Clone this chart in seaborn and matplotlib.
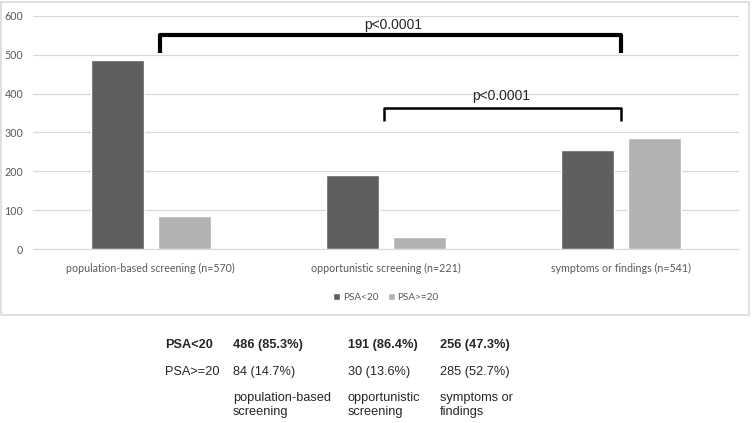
import matplotlib
matplotlib.use("Agg")
import matplotlib.pyplot as plt
from matplotlib.patches import Rectangle
import seaborn as sns
import pandas as pd

categories = ["population-based screening (n=570)", "opportunistic screening (n=221)", "symptoms or findings (n=541)"]
short_names = ["population-based\nscreening", "opportunistic\nscreening", "symptoms or\nfindings"]
groups = ["PSA<20", "PSA>=20"]
psa_lt20 = [486, 191, 256]
psa_ge20 = [84, 30, 285]
pct_lt20 = [85.3, 86.4, 47.3]
pct_ge20 = [14.7, 13.6, 52.7]
yticks = [0, 100, 200, 300, 400, 500, 600]

df = pd.DataFrame({
    "cat": categories * 2,
    "group": [groups[0]] * 3 + [groups[1]] * 3,
    "n": psa_lt20 + psa_ge20,
})

sns.set_style("white")
plt.rcParams['font.family'] = ['Lato', 'DejaVu Sans']

fig = plt.figure(figsize=(7.53, 4.23), dpi=100)
W, H = 753, 423
ax = fig.add_axes([33 / W, 1 - 249 / H, 706 / W, 233 / H])

sns.barplot(data=df, x="cat", y="n", hue="group", palette=["#5f5f5f", "#b2b2b2"],
            width=0.57, gap=0.21, ax=ax, legend=True, saturation=1)

ax.set_xlim(-0.5, 2.5)
ax.set_ylim(0, 600)
ax.set_yticks(yticks)
ax.yaxis.grid(True, color="#d9d9d9", lw=0.9)
ax.set_axisbelow(True)
for s in ["top", "right", "left"]:
    ax.spines[s].set_visible(False)
ax.spines["bottom"].set_color("#d9d9d9")
ax.tick_params(axis="both", length=0, labelsize=7.7, colors="#595959", pad=7)
ax.tick_params(axis="x", pad=10)
ax.set_xlabel("")
ax.set_ylabel("")

leg = ax.legend(loc="upper center", bbox_to_anchor=(0.5, -0.15), ncol=2, frameon=False,
                fontsize=7.2, handlelength=0.7, handleheight=0.7, handletextpad=0.3,
                columnspacing=0.9)
for t in leg.get_texts():
    t.set_color("#595959")

# significance brackets
ax.plot([0.04, 0.04, 2.0, 2.0], [505, 551, 551, 505], color="black", lw=3,
        solid_joinstyle="round", solid_capstyle="butt", clip_on=False)
ax.text(1.03, 578, "p<0.0001", ha="center", va="center", fontsize=10,
        family="Liberation Sans")
ax.plot([0.99, 0.99, 2.0, 2.0], [330, 363, 363, 330], color="black", lw=1.8,
        solid_joinstyle="round", solid_capstyle="butt")
ax.text(1.49, 394, "p<0.0001", ha="center", va="center", fontsize=10,
        family="Liberation Sans")

# chart border
fig.patches.append(Rectangle((1 / W, 1 - 315 / H), 748 / W, 313 / H, transform=fig.transFigure,
                             fill=False, edgecolor="#d9d9d9", lw=1.2))

# table below chart
col_x = [233, 348, 440]
fs = 9.2
fig.text(165 / W, 1 - 345 / H, groups[0], ha="left", va="center", fontsize=fs,
         fontweight="bold", family="Liberation Sans")
fig.text(165 / W, 1 - 372 / H, groups[1], ha="left", va="center", fontsize=fs,
         family="Liberation Sans")
for i in range(3):
    fig.text(col_x[i] / W, 1 - 345 / H, f"{psa_lt20[i]} ({pct_lt20[i]}%)", ha="left",
             va="center", fontsize=fs, fontweight="bold", family="Liberation Sans")
    fig.text(col_x[i] / W, 1 - 372 / H, f"{psa_ge20[i]} ({pct_ge20[i]}%)", ha="left",
             va="center", fontsize=fs, family="Liberation Sans")
    fig.text(col_x[i] / W, 1 - 405 / H, short_names[i], ha="left", va="center",
             fontsize=fs, family="Liberation Sans", linespacing=1.25)

fig.savefig("out.png", dpi=100)
